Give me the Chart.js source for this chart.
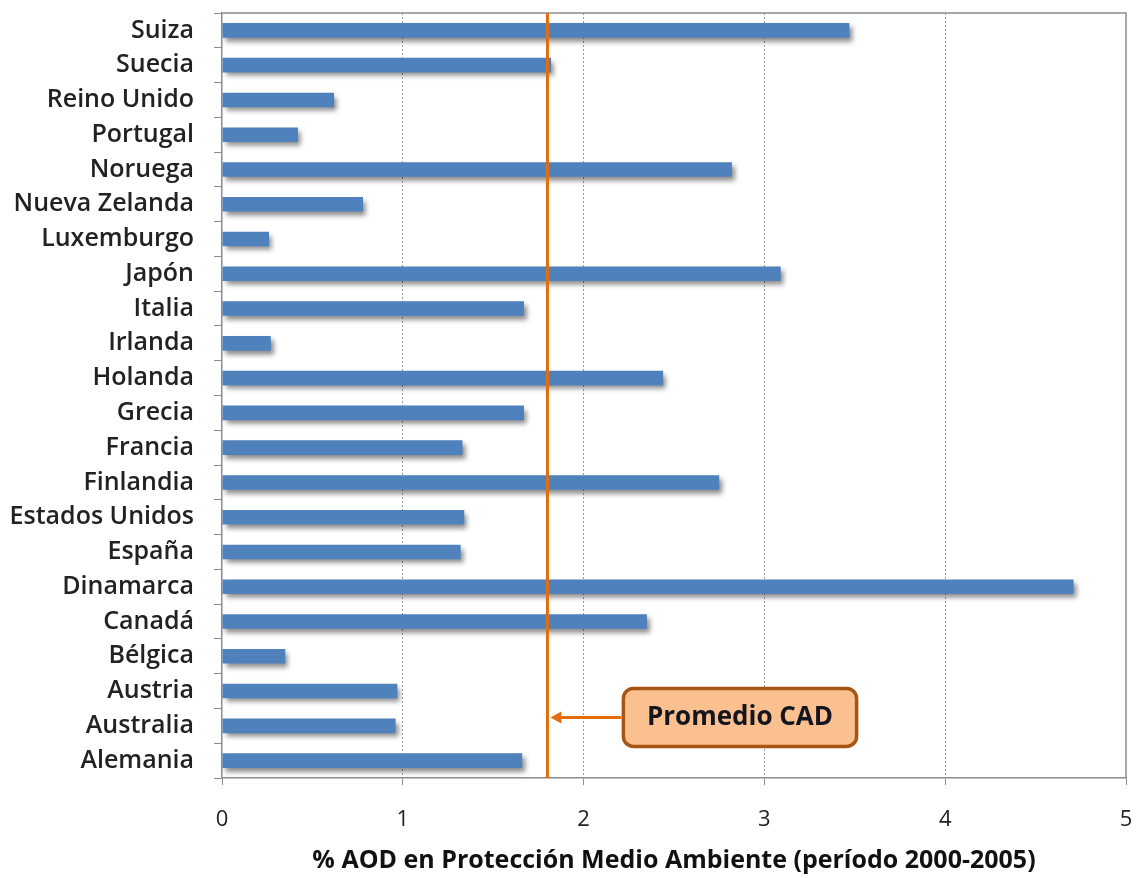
<!DOCTYPE html>
<html>
<head>
<meta charset="utf-8">
<title>AOD Proteccion Medio Ambiente</title>
<script src="https://cdn.jsdelivr.net/npm/chart.js@4.4.1/dist/chart.umd.min.js"></script>
<style>
  html, body { margin: 0; padding: 0; background: #fff; overflow: hidden; }
  #wrap { width: 1136px; height: 878px; }
  canvas { display: block; }
</style>
</head>
<body>
<div id="wrap"><canvas id="myChart" width="1136" height="878"></canvas></div>
<script>
// data
const countries = ['Suiza', 'Suecia', 'Reino Unido', 'Portugal', 'Noruega', 'Nueva Zelanda',
    'Luxemburgo', 'Japón', 'Italia', 'Irlanda', 'Holanda', 'Grecia', 'Francia', 'Finlandia',
    'Estados Unidos', 'España', 'Dinamarca', 'Canadá', 'Bélgica', 'Austria', 'Australia', 'Alemania'];
const aodValues = [3.47, 1.82, 0.62, 0.42, 2.82, 0.78, 0.26, 3.09, 1.67, 0.27, 2.44, 1.67, 1.33, 2.75,
    1.34, 1.32, 4.71, 2.35, 0.35, 0.97, 0.96, 1.66];
const xTicks = [0, 1, 2, 3, 4, 5];
const promedioCAD = 1.8;
const promedioLabel = 'Promedio CAD';
const axisTitle = '% AOD en Protección Medio Ambiente (período 2000-2005)';

const FONT = "'Open Sans', 'DejaVu Sans', sans-serif";

// shadow under the bars only
const barShadow = {
    id: 'barShadow',
    beforeDatasetsDraw(chart) {
        const ctx = chart.ctx;
        ctx.save();
        ctx.shadowColor = 'rgba(0,0,0,0.45)';
        ctx.shadowBlur = 5;
        ctx.shadowOffsetX = 3;
        ctx.shadowOffsetY = 4;
    },
    afterDatasetsDraw(chart) {
        chart.ctx.restore();
    }
};

// plot frame, average line and callout
const extras = {
    id: 'extras',
    afterDraw(chart) {
        const ctx = chart.ctx;
        const area = chart.chartArea;
        const x = chart.scales.x;
        const y = chart.scales.y;
        ctx.save();

        // top and right frame
        ctx.strokeStyle = '#8c8c8c';
        ctx.lineWidth = 1.5;
        ctx.beginPath();
        ctx.moveTo(area.left, area.top);
        ctx.lineTo(area.right, area.top);
        ctx.lineTo(area.right, area.bottom);
        ctx.stroke();

        // average line
        const lx = x.getPixelForValue(promedioCAD);
        ctx.strokeStyle = '#E46C0A';
        ctx.lineWidth = 3;
        ctx.beginPath();
        ctx.moveTo(lx, area.top);
        ctx.lineTo(lx, area.bottom);
        ctx.stroke();

        // callout box
        const bx1 = x.getPixelForValue(2.22);
        const bx2 = x.getPixelForValue(3.51);
        const cy = (y.getPixelForValue(19) + y.getPixelForValue(20)) / 2 + 9;
        const bh = 58;
        const by = cy - bh / 2;
        ctx.fillStyle = '#FAC090';
        ctx.strokeStyle = '#A85412';
        ctx.lineWidth = 3.5;
        ctx.beginPath();
        ctx.roundRect(bx1, by, bx2 - bx1, bh, 10);
        ctx.fill();
        ctx.stroke();

        ctx.fillStyle = '#151520';
        ctx.font = 'bold 26px ' + FONT;
        ctx.textAlign = 'center';
        ctx.textBaseline = 'middle';
        ctx.fillText(promedioLabel, (bx1 + bx2) / 2, cy);

        // arrow to the line
        ctx.strokeStyle = '#E46C0A';
        ctx.fillStyle = '#E46C0A';
        ctx.lineWidth = 3;
        ctx.beginPath();
        ctx.moveTo(bx1 - 2, cy);
        ctx.lineTo(lx + 8, cy);
        ctx.stroke();
        ctx.beginPath();
        ctx.moveTo(lx + 3, cy);
        ctx.lineTo(lx + 14, cy - 6);
        ctx.lineTo(lx + 14, cy + 6);
        ctx.closePath();
        ctx.fill();

        ctx.restore();
    }
};

// the tick padding would otherwise push the plot area in
function noPadding(scale) {
    scale.paddingLeft = 0;
    scale.paddingRight = 0;
    scale.paddingTop = 0;
    scale.paddingBottom = 0;
}

const ctx = document.getElementById('myChart').getContext('2d');
const myChart = new Chart(ctx, {
    type: 'bar',
    data: {
        labels: countries,
        datasets: [{
            data: aodValues,
            backgroundColor: '#4F81BD',
            borderWidth: 0,
            barPercentage: 0.42,
            categoryPercentage: 1
        }]
    },
    options: {
        indexAxis: 'y',
        responsive: false,
        animation: false,
        layout: { autoPadding: false, padding: { top: 13, right: 10, left: 0, bottom: 0 } },
        plugins: {
            legend: { display: false },
            tooltip: { enabled: false }
        },
        scales: {
            x: {
                min: 0,
                max: 5,
                afterBuildTicks(scale) {
                    scale.ticks = xTicks.map(v => ({ value: v }));
                },
                afterFit(scale) { scale.height = 100; noPadding(scale); },
                grid: {
                    color: ctx => (ctx.tick && ctx.tick.value > 0 && ctx.tick.value < 5) ? '#9a9a9a' : 'rgba(0,0,0,0)',
                    tickColor: '#8c8c8c',
                    tickLength: 7,
                    lineWidth: 1
                },
                border: { display: true, color: '#8c8c8c', width: 1.5, dash: [2, 2] },
                ticks: {
                    padding: 22,
                    color: '#222',
                    font: { family: FONT, size: 22 }
                },
                title: {
                    display: true,
                    text: axisTitle,
                    color: '#111',
                    font: { family: FONT, size: 25, weight: 'bold' },
                    padding: { top: 0, bottom: 2 }
                }
            },
            y: {
                afterFit(scale) { scale.width = 222; noPadding(scale); },
                grid: {
                    drawOnChartArea: false,
                    offset: true,
                    tickColor: '#8c8c8c',
                    tickLength: 8
                },
                border: { display: true, color: '#8c8c8c', width: 1.5 },
                ticks: {
                    padding: 20,
                    color: '#222',
                    font: { family: FONT, size: 25, weight: '600' }
                }
            }
        }
    },
    plugins: [barShadow, extras]
});
</script>
</body>
</html>
